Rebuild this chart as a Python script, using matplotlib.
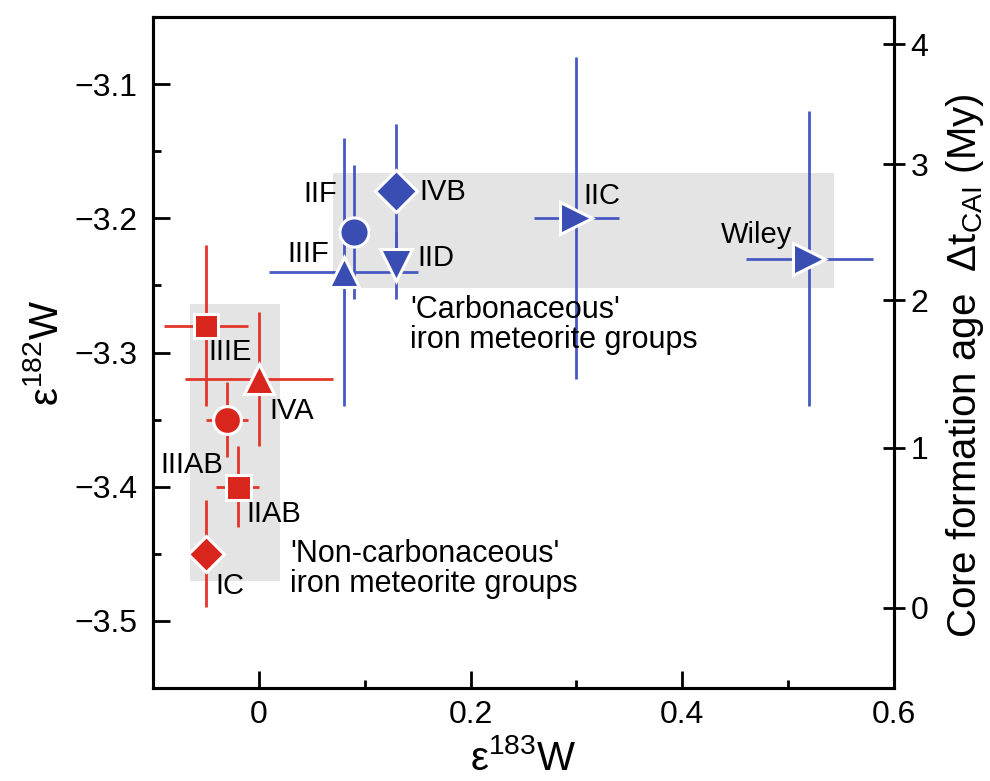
import matplotlib.pyplot as plt
import matplotlib.patches as mpatches
from matplotlib.ticker import MultipleLocator

plt.rcParams['font.family'] = ['Liberation Sans', 'DejaVu Sans']
plt.rcParams['mathtext.fontset'] = 'custom'
plt.rcParams['mathtext.rm'] = 'Liberation Sans'
plt.rcParams['mathtext.it'] = 'Liberation Sans'
plt.rcParams['axes.linewidth'] = 2.2

# Non-carbonaceous groups (red)
nc_names = ['IIIE', 'IVA', 'IIIAB', 'IIAB', 'IC']
nc_x = [-0.05, 0.0, -0.03, -0.02, -0.05]
nc_y = [-3.28, -3.32, -3.35, -3.40, -3.45]
nc_xerr = [0.04, 0.07, 0.02, 0.02, 0.0]
nc_yerr = [0.06, 0.05, 0.028, 0.03, 0.04]

# Carbonaceous groups (blue)
cc_names = ['IIF', 'IIIF', 'IVB', 'IID', 'IIC', 'Wiley']
cc_x = [0.09, 0.08, 0.13, 0.13, 0.30, 0.52]
cc_y = [-3.21, -3.24, -3.18, -3.235, -3.20, -3.23]
cc_xerr = [0.015, 0.07, 0.0, 0.0, 0.04, 0.06]
cc_yerr = [0.05, 0.10, 0.05, 0.025, 0.12, 0.11]

# core formation age axis (My) and the eps182W where its ticks sit
age_labels = ['0', '1', '2', '3', '4']
age_tick_eps = [-3.4903, -3.3711, -3.2609, -3.1596, -3.0702]

# marker styles and label placement (offsets in points from the marker)
nc_style = [('s', 17.5), ('^', 22), ('o', 20), ('s', 18), ('D', 18)]
cc_style = [('o', 21), ('^', 22), ('D', 21.5), ('v', 23), ('>', 23), ('>', 23)]
nc_text = [(2, -24.5, 'left'), (7.7, -28.8, 'left'), (-2.9, -38.7, 'right'),
           (6.3, -25.2, 'left'), (6.5, -28.6, 'left')]
cc_text = [(-12.5, 21.1, 'right'), (-10, 7.2, 'right'), (16.8, -6, 'left'),
           (15.3, -0.7, 'left'), (5, 10.4, 'left'), (-12, 11.5, 'right')]

red = '#d8261d'
red_bar = '#e2352b'
blue = '#3a4db3'
blue_bar = '#4658c2'
gray = '#e4e4e4'

fig = plt.figure(figsize=(9.9, 7.81), dpi=100)
ax = fig.add_axes([0.1545, 0.1191, 0.7485, 0.8591])

# shaded group fields
ax.add_patch(mpatches.Rectangle((-0.065, -3.470), 0.085, 0.206,
                                color=gray, lw=0, zorder=0))
ax.add_patch(mpatches.Rectangle((0.070, -3.252), 0.473, 0.086,
                                color=gray, lw=0, zorder=0))

groups = [(nc_names, nc_x, nc_y, nc_xerr, nc_yerr, nc_style, nc_text, red, red_bar),
          (cc_names, cc_x, cc_y, cc_xerr, cc_yerr, cc_style, cc_text, blue, blue_bar)]

for names, xs, ys, xe, ye, style, txt, col, bcol in groups:
    ax.errorbar(xs, ys, xerr=xe, yerr=ye, fmt='none', ecolor=bcol,
                elinewidth=2.0, capsize=0, zorder=2)

for names, xs, ys, xe, ye, style, txt, col, bcol in groups:
    for i in range(len(names)):
        m, ms = style[i]
        ax.plot(xs[i], ys[i], marker=m, ms=ms, mfc=col, mec='white',
                mew=2.2, ls='none', zorder=3)
        dx, dy, ha = txt[i]
        ax.annotate(names[i], (xs[i], ys[i]), xytext=(dx, dy),
                    textcoords='offset points', ha=ha, va='baseline',
                    fontsize=21, zorder=4)

# baseline of the last line of each caption
ax.text(0.0293, -3.4784, "'Non-carbonaceous'\niron meteorite groups",
        fontsize=22, ha='left', va='baseline', linespacing=1.0)
ax.text(0.1427, -3.2966, "'Carbonaceous'\niron meteorite groups",
        fontsize=22, ha='left', va='baseline', linespacing=1.0)

ax.set_xlim(-0.1, 0.6)
ax.set_ylim(-3.55, -3.05)
ax.xaxis.set_minor_locator(MultipleLocator(0.1))
ax.yaxis.set_minor_locator(MultipleLocator(0.05))
ax.set_xticks([0, 0.2, 0.4, 0.6])
ax.set_xticklabels(['0', '0.2', '0.4', '0.6'])
ax.set_yticks([-3.5, -3.4, -3.3, -3.2, -3.1])
ax.set_yticklabels(['\u22123.5', '\u22123.4', '\u22123.3', '\u22123.2', '\u22123.1'])
ax.tick_params(which='both', direction='in', labelsize=23, width=2.0,
               right=False, top=False)
ax.tick_params(which='major', length=12)
ax.tick_params(which='minor', length=6)
ax.tick_params(axis='y', pad=11)
ax.tick_params(axis='x', pad=9)

ax.set_xlabel('\u03b5$^{183}$W', fontsize=29, labelpad=6)
ax.set_ylabel('\u03b5$^{182}$W', fontsize=29, labelpad=6)

ax2 = ax.twinx()
ax2.set_ylim(ax.get_ylim())
ax2.set_yticks(age_tick_eps)
ax2.set_yticklabels(age_labels)
ax2.tick_params(axis='y', direction='inout', length=16, width=2.0,
                labelsize=23, pad=4)
ax2.set_ylabel(r'Core formation age  $\Delta\mathrm{t}_{\mathrm{CAI}}$ (My)',
               fontsize=29)
ax2.yaxis.set_label_coords(1.068, 0.48)

fig.savefig('out.png', dpi=100)
